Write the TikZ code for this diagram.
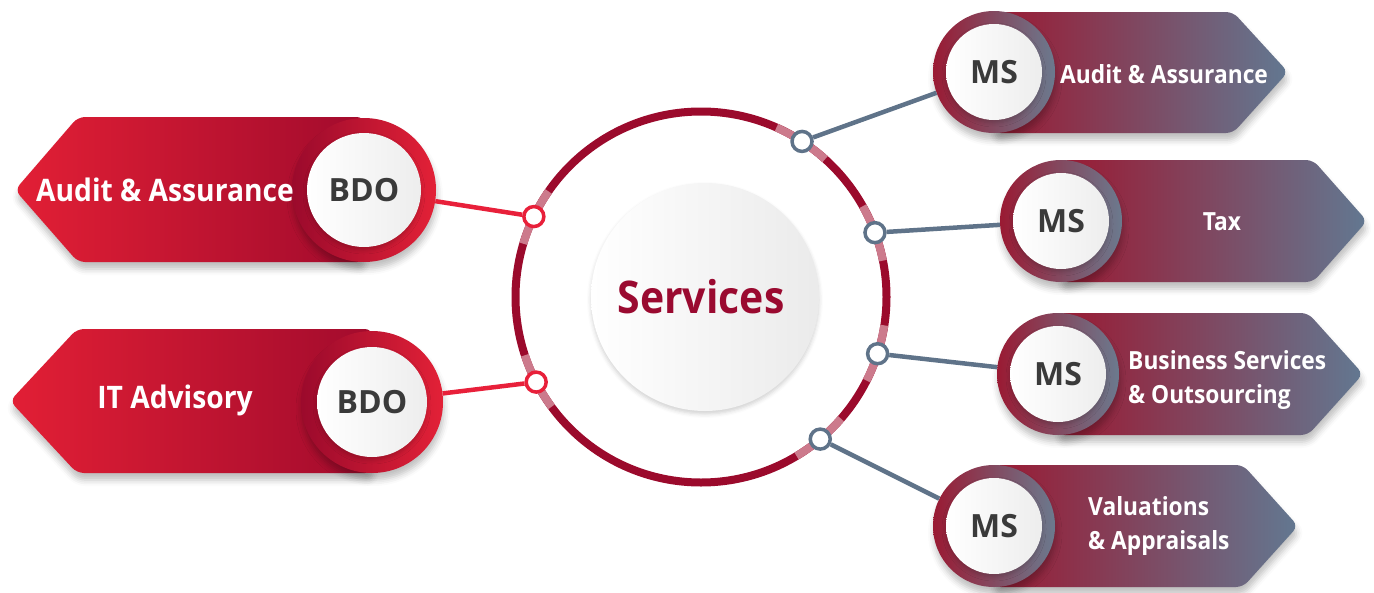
\documentclass[tikz,border=0pt]{standalone}
\usepackage{fontspec}
\setmainfont{Open Sans}[FakeStretch=0.91]
\newfontfamily\discfont{Open Sans}
\usetikzlibrary{shadows.blur}
\definecolor{bdoL}{HTML}{E21F35}
\definecolor{bdoR}{HTML}{A20B2D}
\definecolor{ringD}{HTML}{9B0A2C}
\definecolor{ringL}{HTML}{E32137}
\definecolor{msL}{HTML}{9A1A33}
\definecolor{msR}{HTML}{627891}
\definecolor{msRingR}{HTML}{6B7A8E}
\definecolor{slate}{HTML}{5F7389}
\definecolor{redc}{HTML}{E8203A}
\definecolor{pinkseg}{HTML}{CC7A8C}
\definecolor{darktext}{HTML}{3A3A3A}
\definecolor{servtext}{HTML}{9A0A30}
\tikzset{
  shad/.style={blur shadow={shadow xshift=1pt, shadow yshift=-7pt, shadow blur radius=6pt, shadow opacity=25}},
  softshad/.style={blur shadow={shadow xshift=0pt, shadow yshift=-3pt, shadow blur radius=4pt, shadow opacity=18}},
  bdoband/.style={left color=bdoL, right color=bdoR, rounded corners=7pt, shad},
  msband/.style={left color=msL, right color=msR, rounded corners=7pt, shad},
  bdoring/.style={circle, inner sep=0pt, left color=ringD, right color=ringL, shad},
  msring/.style={circle, inner sep=0pt, left color=msL, right color=msRingR, shad},
  disc/.style={circle, inner sep=0pt, left color=white, right color=black!7, softshad, text=darktext, font=\discfont\bfseries\fontsize{32}{36}\selectfont},
  bantext/.style={text=white, font=\bfseries\fontsize{31}{36}\selectfont},
  mstext/.style={text=white, font=\bfseries\fontsize{25}{34}\selectfont, align=left, inner sep=0pt},
  port/.style={circle, inner sep=0pt, minimum size=20pt, fill=white, line width=3.5pt},
  conn/.style={line width=4.5pt},
}
\begin{document}
\begin{tikzpicture}[x=1pt,y=-1pt]
\useasboundingbox (0,0) rectangle (1374,592);
% ---------- centre ----------
\coordinate (c) at (701,297);
\node[circle, inner sep=0pt, minimum size=228pt, left color=white, right color=black!8, softshad] (core) at (705,297) {};
\node[text=servtext, font=\bfseries\fontsize{45}{50}\selectfont] (serv) at (701,297) {Services};
\draw[ringD, line width=8pt] (c) circle[radius=185.5];
\foreach \a in {205.7,152.7,-57,-20.3,17.8,50}{
  \draw[pinkseg, line width=8pt] ([shift={(\a-9:185.5)}]c) arc[start angle=\a-9, end angle=\a+9, radius=185.5];
}
\node[port, draw=redc] (pL1) at ([shift={(205.7:185.5)}]c) {};
\node[port, draw=redc] (pL2) at ([shift={(152.7:185.5)}]c) {};
\node[port, draw=slate] (pR1) at ([shift={(-57:185.5)}]c) {};
\node[port, draw=slate] (pR2) at ([shift={(-20.3:185.5)}]c) {};
\node[port, draw=slate] (pR3) at ([shift={(17.8:185.5)}]c) {};
\node[port, draw=slate] (pR4) at ([shift={(50:185.5)}]c) {};
% ---------- BDO bands ----------
\path[bdoband] (364,117) -- (78,117) -- (15,190) -- (78,262) -- (364,262) -- cycle;
\node[bdoring, minimum size=144pt] (b1) at (364,190) {};
\node[disc, minimum size=114pt] (b1d) at (b1) {BDO};
\node[bantext] (b1t) at (165,190) {Audit \& Assurance};
\path[bdoband] (372,329) -- (77,329) -- (10,401) -- (77,473) -- (372,473) -- cycle;
\node[bdoring, minimum size=142pt] (b2) at (372,402) {};
\node[disc, minimum size=110pt] (b2d) at (b2) {BDO};
\node[bantext] (b2t) at (175,400) {IT Advisory};
% ---------- MS bands ----------
\path[msband] (994,12) -- (1233,12) -- (1288,72) -- (1233,133) -- (994,133) -- cycle;
\node[msring, minimum size=122pt] (m1) at (994,72) {};
\node[disc, minimum size=96pt] (m1d) at (m1) {MS};
\node[mstext, anchor=west] (m1t) at (1060,74) {Audit \& Assurance};
\path[msband] (1061,160) -- (1313,160) -- (1367,221) -- (1313,282) -- (1061,282) -- cycle;
\node[msring, minimum size=122pt] (m2) at (1061,221) {};
\node[disc, minimum size=96pt] (m2d) at (m2) {MS};
\node[mstext] (m2t) at (1222,222) {Tax};
\path[msband] (1058,313) -- (1308,313) -- (1363,374) -- (1308,435) -- (1058,435) -- cycle;
\node[msring, minimum size=122pt] (m3) at (1058,374) {};
\node[disc, minimum size=96pt] (m3d) at (m3) {MS};
\node[mstext, anchor=west] (m3t) at (1128,380) {Business Services\\\& Outsourcing};
\path[msband] (994,465) -- (1243,465) -- (1298,526) -- (1243,587) -- (994,587) -- cycle;
\node[msring, minimum size=122pt] (m4) at (994,526) {};
\node[disc, minimum size=96pt] (m4d) at (m4) {MS};
\node[mstext, anchor=west] (m4t) at (1088,526) {Valuations\\\& Appraisals};
% ---------- connectors ----------
\draw[conn, redc] (pL1) -- (b1);
\draw[conn, redc] (pL2) -- (b2);
\draw[conn, slate] (pR1) -- (m1);
\draw[conn, slate] (pR2) -- (m2);
\draw[conn, slate] (pR3) -- (m3);
\draw[conn, slate] (pR4) -- (m4);
\end{tikzpicture}
\end{document}
